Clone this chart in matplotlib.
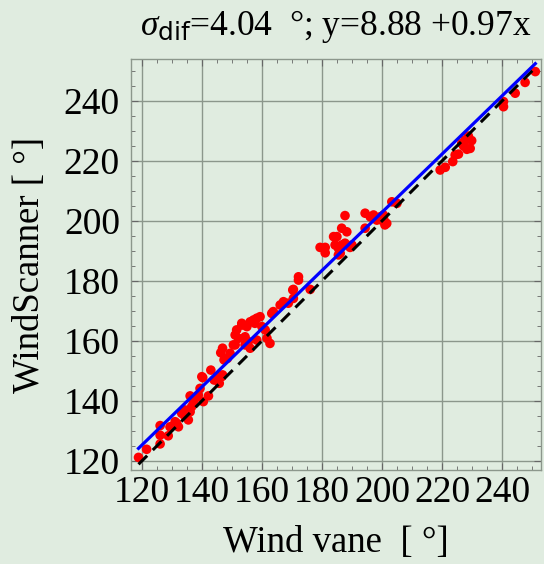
import numpy as np
import matplotlib.pyplot as plt
from matplotlib.ticker import MultipleLocator

plt.rcParams['font.family'] = ['Liberation Serif', 'DejaVu Serif']
plt.rcParams['mathtext.fontset'] = 'custom'
plt.rcParams['mathtext.rm'] = 'Liberation Serif'
plt.rcParams['mathtext.it'] = 'Liberation Serif:italic'
plt.rcParams['mathtext.sf'] = 'DejaVu Sans'

# wind direction pairs [deg]
vane = [118.9, 121.6, 126.1, 126.1, 128.8, 126.1, 129.4, 131.6, 132.2, 131.1,
        133.3, 134.4, 135.5, 136.1, 134.4, 136.6, 137.2, 136.1, 138.3, 139.4,
        140.5, 142.2, 140.3, 143.0, 144.1, 145.2, 145.8, 146.9, 147.4, 148.5,
        146.9, 146.3, 150.5, 151.6, 152.2, 153.3, 155.0, 156.1, 157.2, 158.3,
        159.4, 160.0, 161.1, 161.7, 162.7, 154.4, 155.5, 156.1, 158.3, 163.8,
        166.1, 167.2, 170.3, 172.2, 151.1, 153.3, 157.7, 154.4, 149.4, 151.1,
        140.0, 146.6, 138.8, 163.3, 168.8, 170.5,
        170.5, 172.2, 176.1, 179.4, 181.1, 181.1, 183.9, 184.4, 185.5, 186.1,
        186.6, 187.7, 189.4, 185.5, 186.6, 188.3, 187.7, 194.4, 194.4, 196.1,
        197.2, 198.3, 199.4, 200.5, 201.6, 199.9, 203.3, 205.0, 185.0, 190.0,
        200.6, 201.0,
        219.4, 221.1, 223.6, 224.4, 225.5, 226.6, 227.7, 228.8, 229.9, 228.3,
        229.4, 227.2, 240.5, 240.5, 244.4, 247.7, 251.1]
scanner = [121.2, 123.9, 125.7, 128.6, 128.4, 131.8, 131.4, 132.6, 131.4, 133.1,
           135.9, 134.8, 133.7, 136.4, 137.0, 138.1, 139.8, 141.7, 141.4, 144.2,
           139.8, 141.7, 147.8, 150.3, 147.0, 148.1, 145.9, 148.7, 153.7, 154.2,
           157.6, 156.1, 158.7, 163.7, 160.9, 165.9, 164.8, 166.4, 167.0, 167.6,
           168.1, 164.8, 163.7, 160.9, 159.2, 158.7, 159.8, 157.6, 160.3, 169.8,
           172.0, 173.1, 177.0, 180.3, 162.0, 165.3, 165.9, 161.4, 155.9, 158.7,
           148.1, 148.1, 142.0, 169.2, 172.6, 174.2,
           177.2, 181.4, 177.2, 191.2, 191.2, 189.4, 194.8, 192.0, 190.9, 189.2,
           192.0, 192.6, 191.2, 188.7, 197.6, 196.4, 201.8, 197.6, 202.6, 201.4,
           202.0, 200.3, 201.4, 202.0, 199.2, 200.3, 206.4, 205.9, 194.8, 192.0,
           200.6, 198.7,
           217.0, 217.9, 219.8, 222.0, 222.3, 225.9, 227.0, 228.3, 226.8, 223.9,
           224.2, 225.0, 238.1, 239.8, 242.6, 246.2, 249.8]

sigma_dif = 4.04
intercept = 8.88
slope = 0.97

bg = '#e0ece0'
fig = plt.figure(figsize=(5.44, 5.64), dpi=100, facecolor=bg)
ax = fig.add_axes([131 / 544, 94 / 564, 410 / 544, 411 / 564], facecolor=bg)

ax.scatter(vane, scanner, s=48, color='red', edgecolors='none', zorder=3)
xx = np.array([min(vane), max(vane)])
ax.plot(xx, xx, color='black', ls=(0, (4, 2.6)), lw=2.2, zorder=4)
ax.plot(xx, intercept + slope * xx, color='blue', lw=2.3, zorder=5)

ax.set_xlim(116.4, 253.0)
ax.set_ylim(117.0, 254.0)
ax.xaxis.set_major_locator(MultipleLocator(20))
ax.yaxis.set_major_locator(MultipleLocator(20))
ax.xaxis.set_minor_locator(MultipleLocator(5))
ax.yaxis.set_minor_locator(MultipleLocator(5))
ax.grid(True, which='major', color='#8c978c', lw=1.0)
ax.set_axisbelow(True)
ax.tick_params(which='both', direction='in', top=True, right=True,
               color='#666666', labelsize=27)
ax.tick_params(which='major', length=5, width=0.8)
ax.tick_params(which='minor', length=3, width=0.6)
ax.tick_params(axis='x', pad=4)
ax.tick_params(axis='y', pad=8)
for sp in ax.spines.values():
    sp.set_color('#8c978c')
    sp.set_linewidth(1.0)

ax.set_xlabel('Wind vane  [ °]', fontsize=26.5, labelpad=11)
ax.set_ylabel('WindScanner [ °]', fontsize=26.5, labelpad=12)
ax.set_title(r'$\sigma_{\mathsf{dif}}$=%.2f  °; y=%.2f +%.2fx'
             % (sigma_dif, intercept, slope), fontsize=25.5, pad=17)

fig.savefig('out.png', dpi=100, facecolor=bg)
